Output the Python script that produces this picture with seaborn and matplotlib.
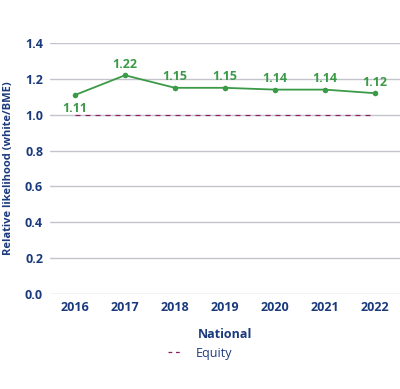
import pandas as pd
import matplotlib
matplotlib.use("Agg")
import matplotlib.pyplot as plt
import seaborn as sns
from matplotlib.lines import Line2D

# Data
years = ["2016", "2017", "2018", "2019", "2020", "2021", "2022"]
national = [1.11, 1.22, 1.15, 1.15, 1.14, 1.14, 1.12]
equity = [1.0, 1.0, 1.0, 1.0, 1.0, 1.0, 1.0]
y_ticks = [0.0, 0.2, 0.4, 0.6, 0.8, 1.0, 1.2, 1.4]

GREEN = "#3b9a47"
NAVY = "#1b3a7c"
PURPLE = "#8c2062"
GRID = "#c4c4cc"

sns.set_style("white")
plt.rcParams["font.family"] = ["Open Sans", "DejaVu Sans"]

df = pd.DataFrame({"year": years, "national": national, "equity": equity})

fig = plt.figure(figsize=(4.0, 3.89), dpi=100)
ax = fig.add_axes([0.125, 0.244, 0.875, 0.6455])

for t in y_ticks:
    ax.axhline(t, color=GRID, lw=1, zorder=0)

sns.lineplot(data=df, x="year", y="equity", ax=ax, color=PURPLE, lw=0.9,
             linestyle=(0, (4, 4)), sort=False, zorder=2)
sns.lineplot(data=df, x="year", y="national", ax=ax, color=GREEN, lw=1.3,
             marker="o", markersize=4, markeredgewidth=0, sort=False, zorder=3)

for i, v in enumerate(national):
    off = -10 if i == 0 else 8
    ax.annotate(f"{v:.2f}", (i, v), xytext=(0, off), textcoords="offset points",
                ha="center", va="center", color=GREEN, fontsize=9, fontweight="bold")

ax.set_xlim(-0.5, 6.5)
ax.set_ylim(0, 1.4)
ax.set_yticks(y_ticks)
ax.set_yticklabels([f"{t:.1f}" for t in y_ticks])
ax.tick_params(axis="both", length=0, labelsize=9, labelcolor=NAVY)
ax.tick_params(axis="x", pad=5)
ax.tick_params(axis="y", pad=5)
for lab in ax.get_xticklabels() + ax.get_yticklabels():
    lab.set_fontweight("bold")
for s in ax.spines.values():
    s.set_visible(False)

ax.set_xlabel("National", color=NAVY, fontsize=9, fontweight="bold", labelpad=10)
ax.set_ylabel("Relative likelihood (white/BME)", color=NAVY, fontsize=8,
              fontweight="bold", labelpad=8)

handle = Line2D([], [], color=PURPLE, lw=0.9, linestyle=(0, (3, 3)))
leg = fig.legend([handle], ["Equity"], loc="center", bbox_to_anchor=(0.5, 0.092),
                 frameon=False, fontsize=9, handlelength=1.2, handletextpad=1.0)
for txt in leg.get_texts():
    txt.set_color(NAVY)

fig.savefig("out.png", dpi=100)
